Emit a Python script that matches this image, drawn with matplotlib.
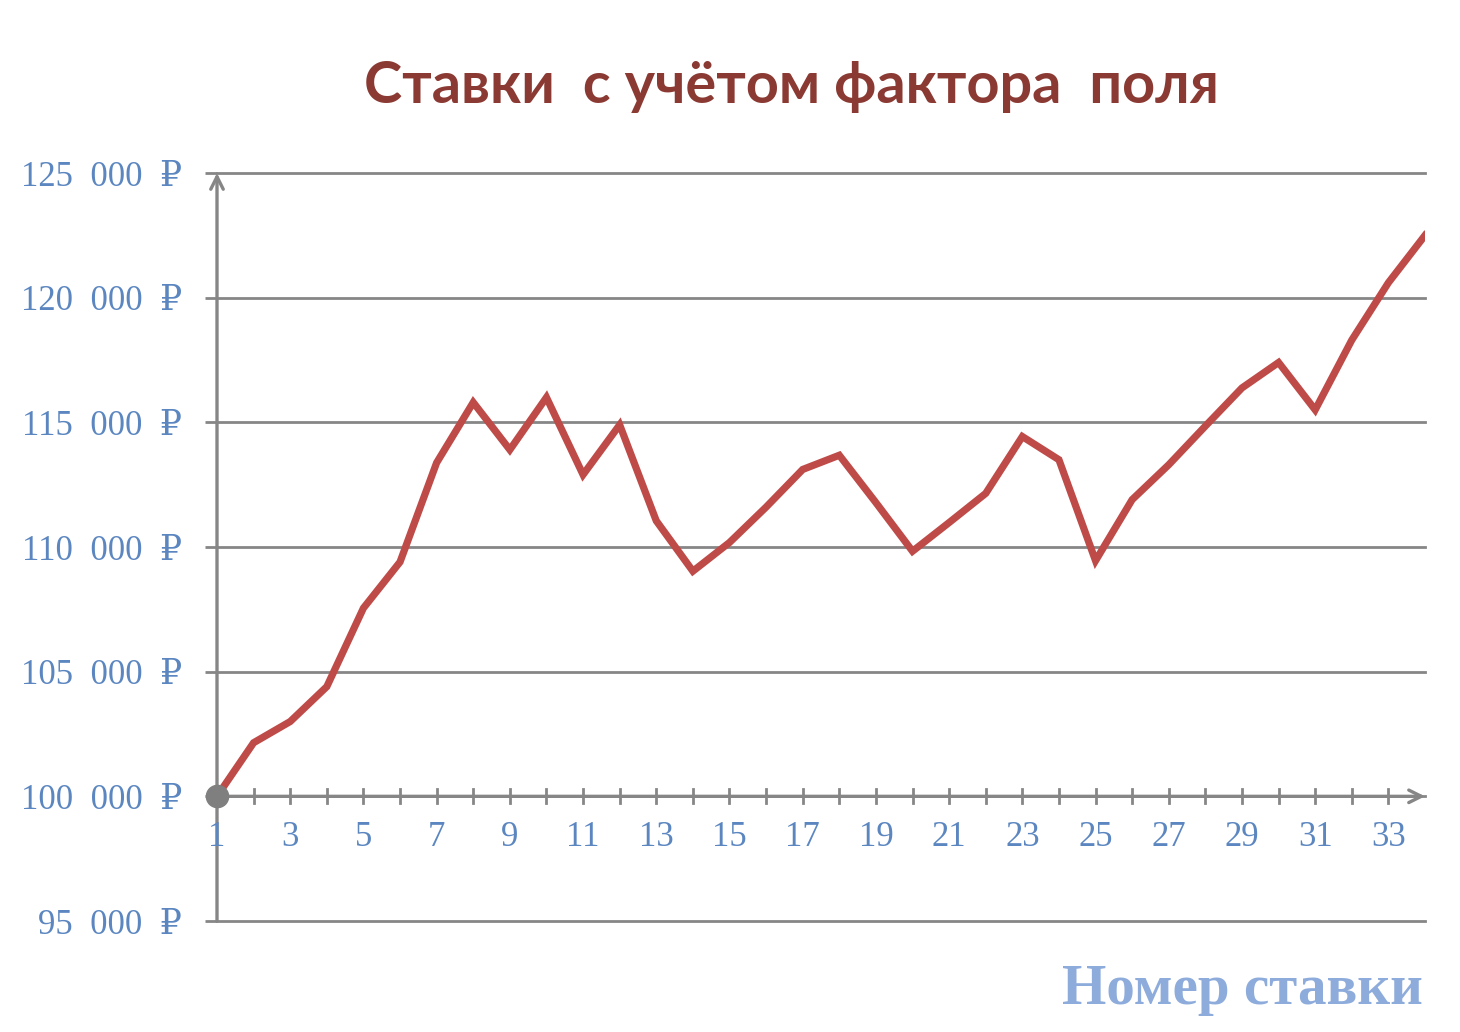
import numpy as np
import matplotlib.pyplot as plt
from matplotlib.ticker import FixedLocator, FuncFormatter

# номер ставки и сумма ставки
bet_no = list(range(1, 35))
bet_sum = [100000, 102150, 103000, 104400, 107550, 109400, 113380, 115800, 113900, 116000,
           112900, 114900, 111050, 109030, 110180, 111600, 113110, 113680, 111780, 109830,
           110980, 112150, 114430, 113500, 109450, 111900, 113300, 114850, 116380, 117400,
           115500, 118300, 120600, 122500]
y_ticks = [95000, 100000, 105000, 110000, 115000, 120000, 125000]
x_ticks = list(range(1, 34, 2))

title = "Ставки  с учётом фактора  поля"
xlabel = "Номер ставки"

grid_col = "#868686"
blue = "#5b86c0"

fig = plt.figure(figsize=(14.6, 10.32), dpi=100)
ax = fig.add_axes([217 / 1460, 1 - 921 / 1032, (1425 - 217) / 1460, (921 - 173) / 1032])

ax.plot(bet_no, bet_sum, color="#BE4B48", lw=5.2, solid_joinstyle="miter", zorder=3)
ax.plot(bet_no[0], bet_sum[0], "o", color="#7f7f7f", ms=16, zorder=4, clip_on=False)

ax.set_xlim(1, 34)
ax.set_ylim(95000, 125000)

ax.yaxis.set_major_locator(FixedLocator(y_ticks))
ax.yaxis.set_major_formatter(FuncFormatter(lambda v, p: f"{int(v) // 1000}  000  ₽"))
ax.grid(axis="y", color=grid_col, lw=2)
for gl in ax.get_ygridlines():
    gl.set_clip_on(False)
ax.set_axisbelow(True)

ax.xaxis.set_major_locator(FixedLocator(x_ticks))

for s in ["top", "right", "left", "bottom"]:
    ax.spines[s].set_visible(False)

# оси со стрелками
arrow = dict(arrowstyle="->,head_length=0.9,head_width=0.45", color=grid_col, lw=2.4,
             shrinkA=0, shrinkB=0)
ax.annotate("", xy=(1, 125000), xytext=(1, 95000), arrowprops=arrow,
            annotation_clip=False, zorder=2)
ax.annotate("", xy=(34, 100000), xytext=(1, 100000), arrowprops=arrow,
            annotation_clip=False, zorder=2)
for x in bet_no[1:-1]:
    ax.plot([x, x], [99720, 100280], color=grid_col, lw=2, zorder=2)

serif = ["Liberation Serif", "DejaVu Serif"]
ax.tick_params(axis="y", length=9, width=2, color=grid_col, pad=16,
               labelsize=25, labelcolor=blue)
ax.tick_params(axis="x", length=0, labelbottom=False)
for lab in ax.get_yticklabels():
    lab.set_family(serif)
# подписи X у оси на уровне 100 000
for x in x_ticks:
    ax.text(x, 99000, str(x), ha="center", va="top", fontsize=25, color=blue, family=serif)

fig.text(0.542, 0.916, title, ha="center", va="center", fontsize=41.5, fontweight="bold",
         color="#8B3A33", family=["Lato", "DejaVu Sans"])
fig.text(1423 / 1460, 1 - 990 / 1032, xlabel, ha="right", va="center", fontsize=41,
         fontweight="bold", color="#8EACDB", family=serif)

fig.savefig("out.png", dpi=100, facecolor="white")
